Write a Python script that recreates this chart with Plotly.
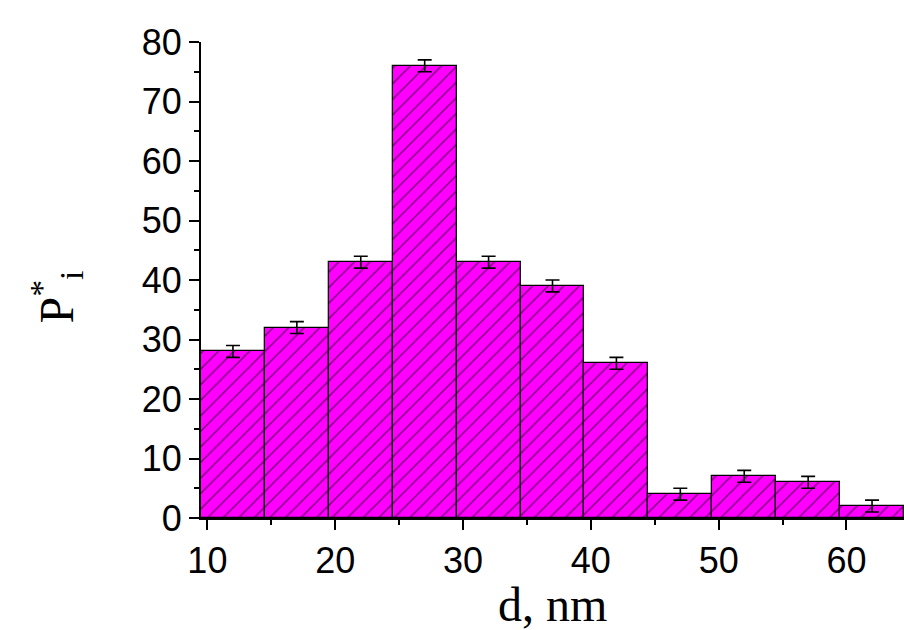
import plotly.graph_objects as go

centers = [12, 17, 22, 27, 32, 37, 42, 47, 52, 57, 62]
values = [28, 32, 43, 76, 43, 39, 26, 4, 7, 6, 2]
errors = [1, 1, 1, 1, 1, 1, 1, 1, 1, 1, 1]
x_ticks = [10, 20, 30, 40, 50, 60]
y_ticks = [0, 10, 20, 30, 40, 50, 60, 70, 80]

fig = go.Figure()
fig.add_trace(go.Bar(
    x=centers, y=values, width=5,
    marker=dict(color="#FF00FF", line=dict(color="black", width=1.3),
                pattern=dict(shape="/", fgcolor="black", bgcolor="#FF00FF",
                             size=11, solidity=0.14, fillmode="overlay")),
    error_y=dict(type="data", array=errors, visible=True, color="black",
                 thickness=1.6, width=7),
))

axis_font = dict(family="Liberation Sans, Arial", size=36, color="black")
title_font = dict(family="Liberation Serif, Times New Roman", size=48, color="black")
fig.update_layout(
    width=904, height=630,
    margin=dict(l=201, r=0, t=42, b=112),
    plot_bgcolor="white", paper_bgcolor="white",
    showlegend=False, bargap=0,
    xaxis=dict(range=[9.5, 64.5], tickvals=x_ticks, ticks="outside", ticklen=10,
               tickwidth=2, tickcolor="black", showline=True, linewidth=2,
               linecolor="black", showgrid=False, zeroline=False,
               tickfont=axis_font, automargin=False,
               minor=dict(ticks="outside", ticklen=5, tickwidth=2,
                          tickcolor="black", dtick=5, tick0=0, showgrid=False)),
    yaxis=dict(range=[0, 80], tickvals=y_ticks, ticks="outside", ticklen=10,
               tickwidth=2, tickcolor="black", showline=True, linewidth=2,
               linecolor="black", showgrid=False, zeroline=False,
               tickfont=axis_font, automargin=False,
               minor=dict(ticks="outside", ticklen=5, tickwidth=2,
                          tickcolor="black", dtick=5, tick0=0, showgrid=False)),
    annotations=[
        dict(text="d, nm", xref="paper", yref="paper", x=0.5, y=-0.1218,
             xanchor="center", yanchor="top", showarrow=False, font=title_font),
        dict(text="P<sup>*</sup><sub>i</sub>", textangle=-90,
             xref="paper", yref="paper", x=-0.205, y=0.465,
             xanchor="center", yanchor="middle", showarrow=False,
             font=dict(family="Liberation Serif, Times New Roman",
                       size=48, color="black")),
    ],
)

fig.write_html("out.html")
